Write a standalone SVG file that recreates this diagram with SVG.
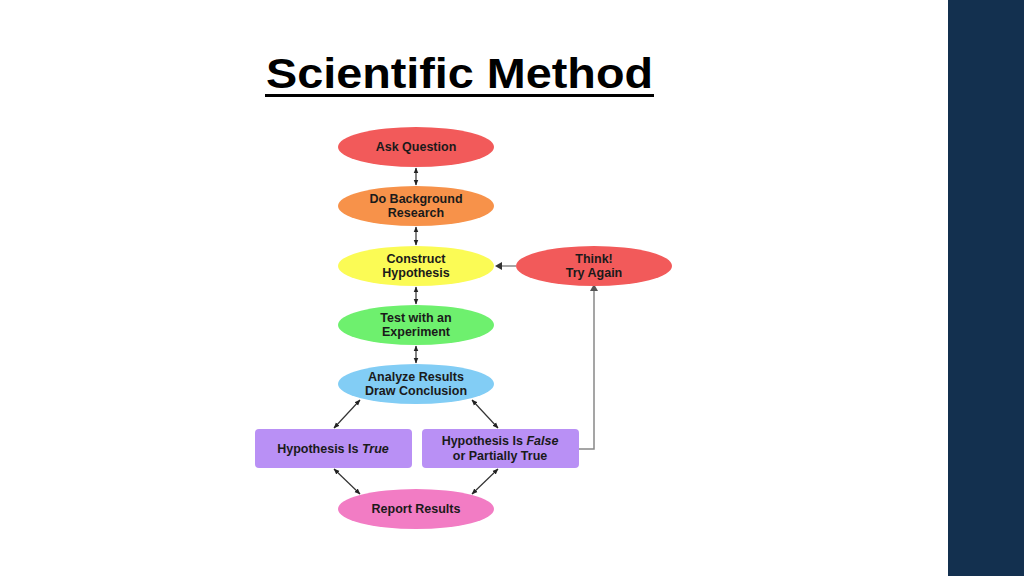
<svg xmlns="http://www.w3.org/2000/svg" width="1024" height="576" viewBox="0 0 1024 576">
<defs>
<marker id="a" viewBox="0 0 10 10" refX="9" refY="5" markerWidth="5" markerHeight="5" orient="auto-start-reverse"><path d="M0,1 L10,5 L0,9 z" fill="#222"/></marker>
<style>
.t{font-family:"Liberation Sans",Arial,sans-serif;font-weight:bold;font-size:12.5px;fill:#1a1a1a;text-anchor:middle}
.c{stroke:#333;stroke-width:1.2;fill:none}
.g{stroke:#888;stroke-width:1.5;fill:none}
</style>
</defs>
<rect width="1024" height="576" fill="#fff"/>
<rect x="948" y="0" width="76" height="576" fill="#13304f"/>
<text x="266" y="88" font-family="Liberation Sans,Arial,sans-serif" font-weight="bold" font-size="42" textLength="387" lengthAdjust="spacingAndGlyphs" fill="#000">Scientific Method</text>
<rect x="265" y="94" width="389" height="3" fill="#000"/>
<g id="connectors">
<line class="c" x1="416" y1="168" x2="416" y2="185" marker-start="url(#a)" marker-end="url(#a)"/>
<line class="c" x1="416" y1="227" x2="416" y2="245" marker-start="url(#a)" marker-end="url(#a)"/>
<line class="c" x1="416" y1="287" x2="416" y2="304" marker-start="url(#a)" marker-end="url(#a)"/>
<line class="c" x1="416" y1="346" x2="416" y2="363" marker-start="url(#a)" marker-end="url(#a)"/>
<line class="c" x1="360" y1="400" x2="334" y2="428" marker-start="url(#a)" marker-end="url(#a)"/>
<line class="c" x1="472" y1="400" x2="498" y2="428" marker-start="url(#a)" marker-end="url(#a)"/>
<line class="c" x1="334" y1="469" x2="360" y2="494" marker-start="url(#a)" marker-end="url(#a)"/>
<line class="c" x1="498" y1="469" x2="472" y2="494" marker-start="url(#a)" marker-end="url(#a)"/>
<polyline class="g" points="579,449 594,449 594,288"/>
<path d="M590,291 L594,284 L598,291 z" fill="#555"/>
<line class="g" x1="516" y1="266" x2="500" y2="266"/>
<path d="M502,262 L495,266 L502,270 z" fill="#333"/>
</g>
<g id="ask"><ellipse cx="416" cy="147" rx="78" ry="20" fill="#f25a5a"/><text class="t" x="416" y="151">Ask Question</text></g>
<g id="background"><ellipse cx="416" cy="206" rx="78" ry="20" fill="#f7924a"/><text class="t" x="416" y="203">Do Background</text><text class="t" x="416" y="217">Research</text></g>
<g id="hypothesis"><ellipse cx="416" cy="266" rx="78" ry="20" fill="#fbfb55"/><text class="t" x="416" y="263">Construct</text><text class="t" x="416" y="277">Hypothesis</text></g>
<g id="think"><ellipse cx="594" cy="266" rx="78" ry="20" fill="#f25a5a"/><text class="t" x="594" y="263">Think!</text><text class="t" x="594" y="277">Try Again</text></g>
<g id="test"><ellipse cx="416" cy="325" rx="78" ry="20" fill="#6ef06e"/><text class="t" x="416" y="322">Test with an</text><text class="t" x="416" y="336">Experiment</text></g>
<g id="analyze"><ellipse cx="416" cy="384" rx="78" ry="20" fill="#82cdf5"/><text class="t" x="416" y="381">Analyze Results</text><text class="t" x="416" y="395">Draw Conclusion</text></g>
<g id="true"><rect x="255" y="429" width="157" height="39" rx="4" fill="#b990f5"/><text class="t" x="333" y="453">Hypothesis Is <tspan font-style="italic">True</tspan></text></g>
<g id="false"><rect x="422" y="429" width="157" height="39" rx="4" fill="#b990f5"/><text class="t" x="500" y="445">Hypothesis Is <tspan font-style="italic">False</tspan></text><text class="t" x="500" y="460">or Partially True</text></g>
<g id="report"><ellipse cx="416" cy="509" rx="78" ry="20" fill="#f27cc4"/><text class="t" x="416" y="513">Report Results</text></g>
</svg>
